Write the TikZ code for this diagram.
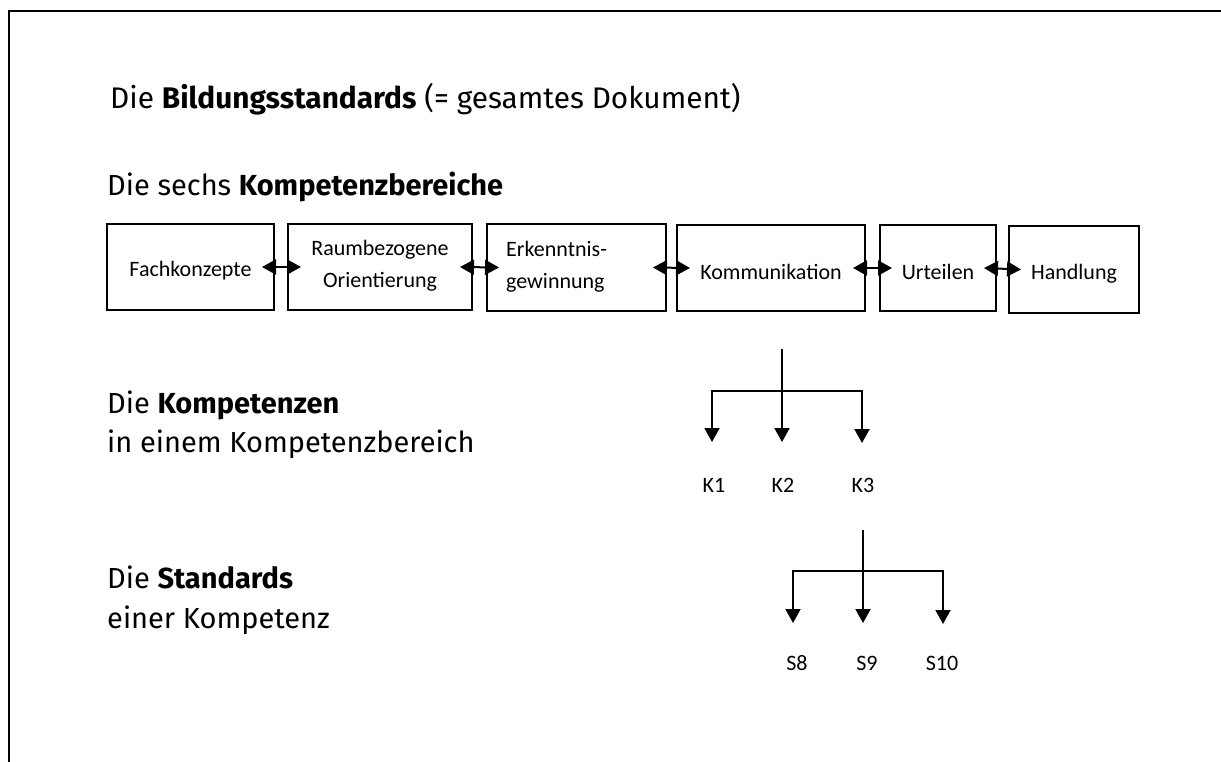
\documentclass[tikz,border=0pt]{standalone}
\usepackage{fontspec}
\setmainfont{Fira Sans}
\newfontfamily\boxfont{Carlito}
\usetikzlibrary{arrows.meta}
\tikzset{
  head/.style={font=\fontsize{29}{40}\selectfont, anchor=base west, inner sep=0pt},
  area/.style={draw, line width=2pt, minimum height=86pt, inner sep=0pt},
  boxtxt/.style={font=\boxfont\fontsize{22}{32}\selectfont, align=center, inner sep=0pt},
  dbl/.style={line width=2pt, {Triangle[length=14pt,width=15pt]}-{Triangle[length=14pt,width=15pt]}},
  arr/.style={line width=2pt, -{Triangle[length=14pt,width=15pt]}},
  lab/.style={font=\boxfont\fontsize{22}{26}\selectfont, inner sep=0pt},
}
\begin{document}
\begin{tikzpicture}[x=1pt,y=-1pt]
\useasboundingbox (0,0) rectangle (1221,762);
% frame
\draw[line width=2pt] (9,762) -- (9,11) -- (1221,11);

% headings
\node[head, font=\fontsize{29.8}{40}\selectfont] (h1) at (110,109) {Die \textbf{Bildungsstandards} (= gesamtes Dokument)};
\node[head] (h2) at (107,196) {Die sechs \textbf{Kompetenzbereiche}};
\node[head] (h3) at (107,413) {Die \textbf{Kompetenzen}};
\node[head] (h3b) at (107,452) {in einem Kompetenzbereich};
\node[head] (h4) at (107,588) {Die \textbf{Standards}};
\node[head] (h4b) at (107,628) {einer Kompetenz};

% boxes
\node[area, minimum width=167pt] (fach) at (190.5,267) {};
\node[area, minimum width=184pt] (raum) at (380,267) {};
\node[area, minimum width=179pt] (erk) at (576.5,267.5) {};
\node[area, minimum width=188pt] (komm) at (771,268) {};
\node[area, minimum width=116pt] (urt) at (938,268) {};
\node[area, minimum width=130pt] (hand) at (1074,269.5) {};

\node[boxtxt] (fachT) at ([yshift=-4pt]fach.center) {Fachkonzepte};
\node[boxtxt] (raumT) at ([yshift=1pt]raum.center) {Raumbezogene\\Orientierung};
\node[boxtxt, align=left, anchor=west] (erkT) at ([xshift=20pt,yshift=1pt]erk.west) {Erkenntnis-\\gewinnung};
\node[boxtxt] (kommT) at ([yshift=-4pt]komm.center) {Kommunikation};
\node[boxtxt] (urtT) at ([yshift=-4pt]urt.center) {Urteilen};
\node[boxtxt] (handT) at ([yshift=-4pt]hand.center) {Handlung};

\draw[dbl] ([xshift=-13pt]fach.east) -- ([xshift=14pt]raum.west);
\draw[dbl] ([xshift=-13pt]raum.east) -- ([xshift=13pt]erk.west);
\draw[dbl] ([xshift=-14pt]erk.east) -- ([xshift=14pt]komm.west);
\draw[dbl] ([xshift=-13pt]komm.east) -- ([xshift=13pt]urt.west);
\draw[dbl] ([xshift=-13pt]urt.east) -- ([xshift=13pt]hand.west);

% tree K
\node[lab] (K1) at (714,485) {K1};
\node[lab] (K2) at (783,485) {K2};
\node[lab] (K3) at (863,485) {K3};
\coordinate (kt) at (782,349);
\coordinate (kb) at (782,391);
\draw[arr] (kt) -- (kt |- 0,442);
\draw[arr] (kb) -| (712,442);
\draw[arr] (kb) -| (862,443);

% tree S
\node[lab] (S8) at (797,663) {S8};
\node[lab] (S9) at (867,663) {S9};
\node[lab] (S10) at (942,663) {S10};
\coordinate (st) at (863,530);
\coordinate (sb) at (863,571);
\draw[arr] (st) -- (st |- 0,623);
\draw[arr] (sb) -| (793,623);
\draw[arr] (sb) -| (943,624);
\end{tikzpicture}
\end{document}
